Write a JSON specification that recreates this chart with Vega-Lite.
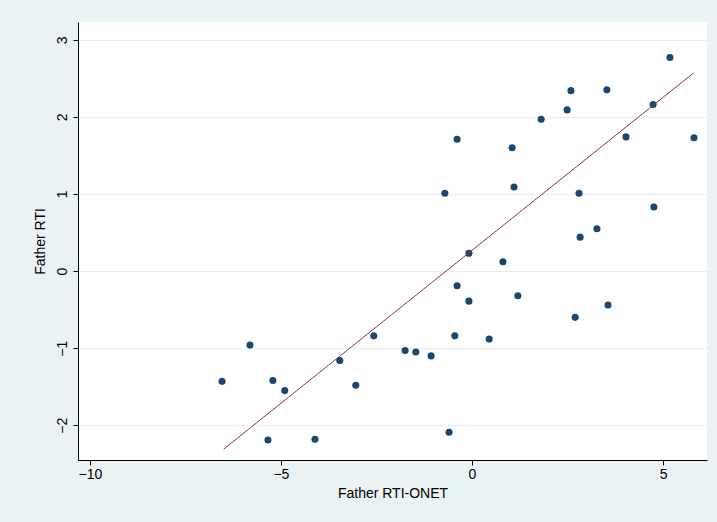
{
  "$schema": "https://vega.github.io/schema/vega-lite/v6.json",
  "autosize": {"type": "none"},
  "width": 629,
  "height": 438,
  "padding": {"left": 78, "top": 22, "right": 10, "bottom": 62},
  "background": "#eaf2f3",
  "config": {"view": {"stroke": null, "fill": "white"}, "font": "Liberation Sans"},
  "datasets": {
    "pts": [
      {"x": -6.54, "y": -1.43}, {"x": -5.81, "y": -0.96}, {"x": -5.21, "y": -1.42},
      {"x": -4.9, "y": -1.55}, {"x": -5.34, "y": -2.19}, {"x": -4.11, "y": -2.18},
      {"x": -3.46, "y": -1.16}, {"x": -3.04, "y": -1.48}, {"x": -2.57, "y": -0.84},
      {"x": -1.75, "y": -1.03}, {"x": -1.47, "y": -1.05}, {"x": -1.07, "y": -1.1},
      {"x": -0.71, "y": 1.01}, {"x": -0.6, "y": -2.09}, {"x": -0.45, "y": -0.84},
      {"x": -0.39, "y": 1.71}, {"x": -0.39, "y": -0.19}, {"x": -0.08, "y": 0.23},
      {"x": -0.08, "y": -0.39}, {"x": 0.45, "y": -0.88}, {"x": 0.81, "y": 0.12},
      {"x": 1.05, "y": 1.6}, {"x": 1.1, "y": 1.09}, {"x": 1.2, "y": -0.32},
      {"x": 1.81, "y": 1.97}, {"x": 2.49, "y": 2.09}, {"x": 2.59, "y": 2.34},
      {"x": 2.7, "y": -0.6}, {"x": 2.8, "y": 1.01}, {"x": 2.83, "y": 0.44},
      {"x": 3.27, "y": 0.55}, {"x": 3.53, "y": 2.35}, {"x": 3.56, "y": -0.44},
      {"x": 4.03, "y": 1.74}, {"x": 4.74, "y": 2.16}, {"x": 4.76, "y": 0.83},
      {"x": 5.18, "y": 2.77}, {"x": 5.81, "y": 1.73}
    ],
    "fit": [{"x": -6.5, "y": -2.31}, {"x": 5.8, "y": 2.57}]
  },
  "encoding": {
    "x": {"field": "x", "type": "quantitative", "title": "Father RTI-ONET",
      "scale": {"domain": [-10.31, 6.15], "nice": false, "zero": false},
      "axis": {"values": [-10, -5, 0, 5], "grid": false, "domainColor": "black", "tickColor": "black",
        "labelFontSize": 14, "titleFontSize": 14, "titleFontWeight": "normal", "labelColor": "black", "titleColor": "black", "titlePadding": 5}},
    "y": {"field": "y", "type": "quantitative", "title": "Father RTI",
      "scale": {"domain": [-2.45, 3.23], "nice": false, "zero": false},
      "axis": {"values": [-2, -1, 0, 1, 2, 3], "gridColor": "#e8eef0", "domainColor": "black", "tickColor": "black",
        "labelAngle": -90, "labelAlign": "center", "labelBaseline": "bottom", "labelPadding": 4,
        "labelFontSize": 14, "titleFontSize": 14, "titleFontWeight": "normal", "labelColor": "black", "titleColor": "black", "titlePadding": 8}}
  },
  "layer": [
    {"data": {"name": "pts"}, "mark": {"type": "point", "filled": true, "size": 50, "color": "#1a476f", "opacity": 1}},
    {"data": {"name": "fit"}, "mark": {"type": "line", "color": "#90353b", "strokeWidth": 1}}
  ]
}
